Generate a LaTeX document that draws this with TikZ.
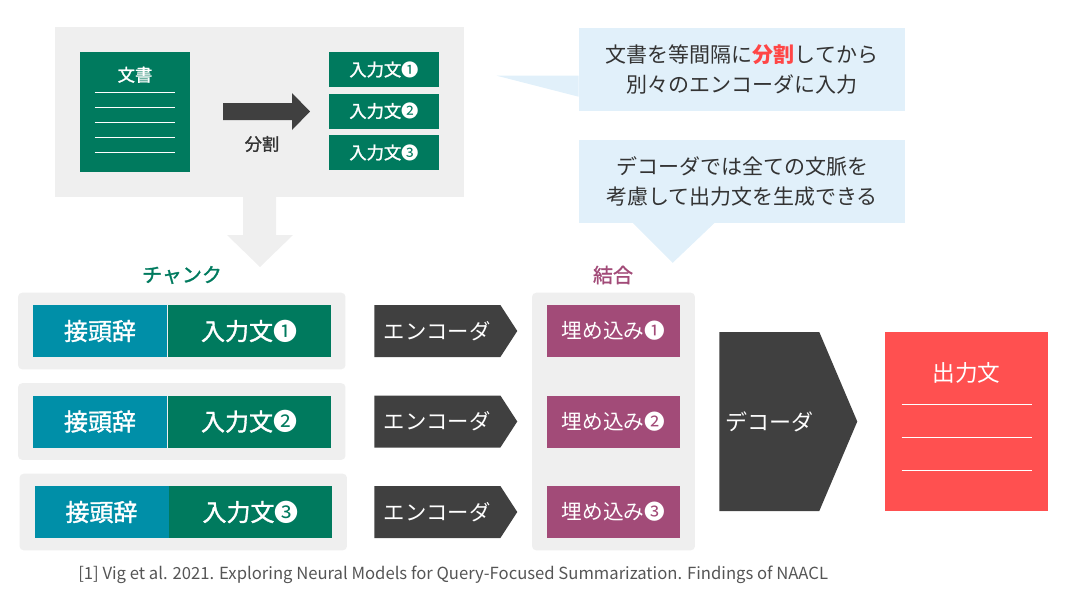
\documentclass[tikz,border=0pt]{standalone}
\usepackage{fontspec}
\setmainfont{Noto Sans CJK JP}
\newfontfamily\semibold[FakeBold=1.4]{Noto Sans CJK JP}
\newcommand{\circnum}[1]{{\normalfont #1}}
\usepackage{tikz}
\usetikzlibrary{shapes.geometric, shapes.symbols, arrows.meta, positioning, fit, backgrounds, calc}
\usepackage{xcolor}
\definecolor{docgreen}{HTML}{007A5E}
\definecolor{prefixteal}{HTML}{008FA8}
\definecolor{encgray}{HTML}{404040}
\definecolor{embpurple}{HTML}{A24B78}
\definecolor{outred}{HTML}{FF5050}
\definecolor{noteblue}{HTML}{E1F0FA}
\definecolor{panelgray}{HTML}{EFEFEF}
\definecolor{textgray}{HTML}{333333}
\definecolor{footgray}{HTML}{555555}
\definecolor{accentred}{HTML}{FF4646}
\tikzstyle{panel}     = [rectangle, fill=panelgray, rounded corners=3pt]
\tikzstyle{smallbox}  = [rectangle, fill=docgreen, text=white, minimum width=82.5pt, minimum height=26.25pt,
                          inner sep=0pt, font=\fontsize{13}{15}\selectfont\semibold]
\tikzstyle{prefixbox} = [rectangle, fill=prefixteal, text=white, minimum width=100.5pt, minimum height=39pt,
                          inner sep=0pt, font=\fontsize{18}{20}\selectfont\semibold]
\tikzstyle{chunkin}   = [rectangle, fill=docgreen, text=white, minimum width=122.25pt, minimum height=39pt,
                          inner sep=0pt, font=\fontsize{18}{20}\selectfont\semibold]
\tikzstyle{encoder}   = [signal, signal to=east, signal pointer angle=114, fill=encgray, text=white,
                          minimum width=107.25pt, minimum height=39pt, inner sep=0pt,
                          font=\fontsize{16}{18}\selectfont]
\tikzstyle{embedbox}  = [rectangle, fill=embpurple, text=white, minimum width=99.75pt, minimum height=39pt,
                          inner sep=0pt, font=\fontsize{15.5}{17}\selectfont]
\tikzstyle{notebox}   = [rectangle, fill=noteblue, text=textgray, minimum width=244.5pt, minimum height=62.25pt,
                          align=center, font=\fontsize{15.75}{22.5}\selectfont]
\tikzstyle{docline}   = [white, line width=0.8pt]

\begin{document}
\begin{tikzpicture}[x=0.75pt, y=-0.75pt]
  \useasboundingbox (0,0) rectangle (1080,594);

  % Document and its split
  \node (doc) [rectangle, fill=docgreen, minimum width=82.5pt, minimum height=90pt] at (135,112) {};
  \node (doctitle) [text=white, font=\fontsize{13}{15}\selectfont\semibold] at ($(doc.north)+(0,23)$) {文書};
  \foreach \k in {0,...,4}
    \draw[docline] ($(doc.north west)+(15,41+15*\k)$) -- ++(80,0);

  \fill[encgray] (223,103) -- (292,103) -- (292,93) -- (310,111.5) -- (292,130) -- (292,120) -- (223,120) -- cycle;
  \node (splitlbl) [text=textgray, font=\fontsize{13}{15}\selectfont\semibold] at (262,144) {分割};

  \node (in1) [smallbox] at (384,69.5) {入力文\circnum{❶}};
  \node (in2) [smallbox] at (384,111) {入力文\circnum{❷}};
  \node (in3) [smallbox] at (384,152.5) {入力文\circnum{❸}};

  % Notes
  \node (note1) [notebox] at (742,69.5) {文書を等間隔に\textcolor{accentred}{\bfseries 分割}してから\\別々のエンコーダに入力};
  \fill[noteblue] ($(note1.north west)+(0,48)$) -- ++(-82,0) -- ($(note1.north west)+(0,69)$) -- cycle;
  \node (note2) [notebox] at (742,181) {デコーダでは全ての文脈を\\考慮して出力文を生成できる};
  \fill[noteblue] ($(note2.south west)+(54,0)$) -- ($(note2.south west)+(94,40)$) -- ($(note2.south west)+(136,0)$) -- cycle;

  % Chunks
  \node (chunklbl) [text=docgreen, font=\fontsize{15}{17}\selectfont\semibold] at (182,275) {チャンク};
  \node (pre1) [prefixbox] at (100,331) {接頭辞};
  \node (pre2) [prefixbox] at (100,421.5) {接頭辞};
  \node (pre3) [prefixbox] at (101.5,512) {接頭辞};
  \node (ch1) [chunkin, right=0pt of pre1] {入力文\circnum{❶}};
  \node (ch2) [chunkin, right=0pt of pre2] {入力文\circnum{❷}};
  \node (ch3) [chunkin, right=0pt of pre3] {入力文\circnum{❸}};

  % Encoders
  \node (enc1) [encoder, anchor=west] at (374,331) {エンコーダ};
  \node (enc2) [encoder, anchor=west] at (374,421.5) {エンコーダ};
  \node (enc3) [encoder, anchor=west] at (374,512) {エンコーダ};

  % Embeddings
  \node (joinlbl) [text=embpurple, font=\fontsize{15}{17}\selectfont\semibold] at (613,275) {結合};
  \node (emb1) [embedbox] at (613.5,331) {埋め込み❶};
  \node (emb2) [embedbox] at (613.5,421.5) {埋め込み❷};
  \node (emb3) [embedbox] at (613.5,512) {埋め込み❸};

  % Decoder and output
  \node (dec) [signal, signal to=east, signal pointer angle=134, fill=encgray, text=white,
               minimum width=103.5pt, minimum height=134.25pt, inner sep=0pt,
               font=\fontsize{16.5}{18}\selectfont, anchor=west] at (719,421.5) {デコーダ};
  \node (out) [rectangle, fill=outred, minimum width=122.25pt, minimum height=134.25pt] at (966.5,421.5) {};
  \node (outtitle) [text=white, font=\fontsize{17}{19}\selectfont] at ($(out.north)+(0,41)$) {出力文};
  \foreach \k in {73,106,139}
    \draw[docline, line width=1pt] ($(out.north west)+(17,\k)$) -- ++(130,0);

  \node (cite) [anchor=west, inner sep=0pt, text=footgray, font=\fontsize{12.5}{14}\selectfont] at (78,575)
       {[1] Vig et al. 2021. Exploring Neural Models for Query-Focused Summarization. Findings of NAACL};

  % Grey panels
  \begin{scope}[on background layer]
    \node (toppanel) [panel, rounded corners=0pt, fit=(doc)(in1)(in3), inner sep=18.75pt] {};
    \fill[panelgray] (243,195) -- (276,195) -- (276,235) -- (293,235) -- (260,267) -- (227,235) -- (243,235) -- cycle;
    \node (chunk1) [panel, fit=(pre1)(ch1), inner xsep=11pt, inner ysep=9pt] {};
    \node (chunk2) [panel, fit=(pre2)(ch2), inner xsep=11pt, inner ysep=9pt] {};
    \node (chunk3) [panel, fit=(pre3)(ch3), inner xsep=11pt, inner ysep=9pt] {};
    \node (joinpanel) [panel, fit=(emb1)(emb3), inner xsep=11pt, inner ysep=9pt] {};
  \end{scope}

\end{tikzpicture}
\end{document}
